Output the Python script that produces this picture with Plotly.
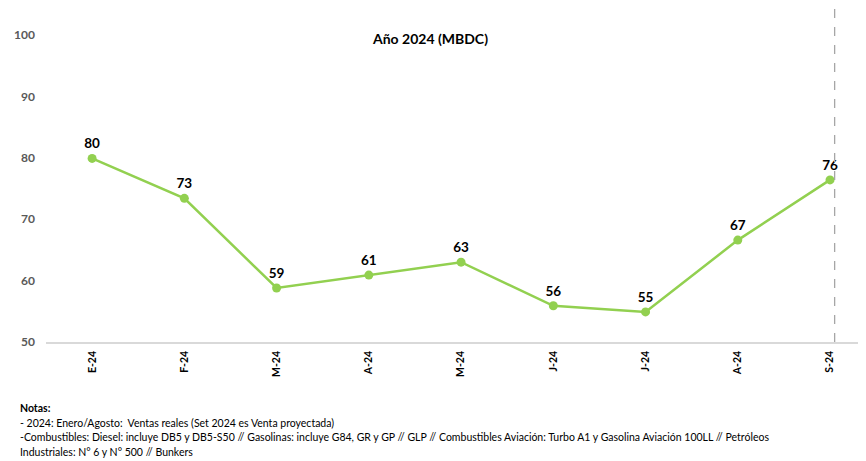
import plotly.graph_objects as go

categories = ["E-24", "F-24", "M-24", "A-24", "M-24", "J-24", "J-24", "A-24", "S-24"]
values = [79.9, 73.4, 58.8, 60.9, 63.0, 55.9, 54.9, 66.6, 76.4]
y_ticks = [50, 60, 70, 80, 90, 100]

title_text = "Año 2024 (MBDC)"
notes = [
    "<b>Notas:</b>",
    "- 2024: Enero/Agosto:  Ventas reales (Set 2024 es Venta proyectada)",
    "-Combustibles: Diesel: incluye DB5 y DB5-S50 // Gasolinas: incluye G84, GR y GP // GLP // Combustibles Aviación: Turbo A1 y Gasolina Aviación 100LL // Petróleos",
    "Industriales: N° 6 y N° 500 // Bunkers",
]

FONT = "Lato, Open Sans, sans-serif"
GREEN = "#92D050"

x_pos = list(range(len(categories)))

fig = go.Figure()
fig.add_trace(go.Scatter(
    x=x_pos, y=values,
    mode="lines+markers+text",
    line=dict(color=GREEN, width=2.5),
    marker=dict(color=GREEN, size=9),
    texttemplate="%{y:.0f}",
    textposition="top center",
    textfont=dict(family=FONT, size=13.5, color="#000000", weight="bold"),
    cliponaxis=False,
    showlegend=False,
    hoverinfo="skip",
))

fig.add_shape(type="line", xref="x", yref="paper",
              x0=8.05, x1=8.05, y0=0, y1=1.12,
              line=dict(color="#A6A6A6", width=1.3, dash="dash"))

fig.add_annotation(text=f"<b>{title_text}</b>", xref="paper", yref="paper",
                   x=0.4686, y=0.99, xanchor="center", yanchor="middle",
                   showarrow=False, font=dict(family=FONT, size=14, color="#000000"))

# notes lines (plot area: left=38, width=820; top=27, height=307 in figure px)
for i, line in enumerate(notes):
    y_px = 408 + 14.7 * i - 8  # line centre in figure px
    fig.add_annotation(text=line, xref="paper", yref="paper",
                       x=(10 - 38) / 820, y=(334 - y_px) / 307,
                       xanchor="left", yanchor="middle", align="left",
                       showarrow=False, font=dict(family=FONT, size=10.5, color="#000000"))

fig.update_layout(
    width=858, height=453,
    margin=dict(l=38, r=0, t=27, b=119),
    paper_bgcolor="white", plot_bgcolor="white",
    font=dict(family=FONT),
    xaxis=dict(
        range=[-0.5, 8.39],
        tickmode="array", tickvals=x_pos, ticktext=categories,
        tickangle=-90,
        tickfont=dict(family=FONT, size=10.5, color="#000000", weight="bold"),
        showgrid=False, zeroline=False,
        showline=True, linecolor="#D9D9D9", linewidth=1.5,
        ticks="", ticklabelstandoff=3,
    ),
    yaxis=dict(
        range=[50, 100],
        tickmode="array", tickvals=y_ticks,
        tickfont=dict(family=FONT, size=12, color="#595959", weight="bold"),
        showgrid=False, zeroline=False, showline=False,
        ticks="", ticklabelstandoff=10,
    ),
)

fig.write_html("out.html")
